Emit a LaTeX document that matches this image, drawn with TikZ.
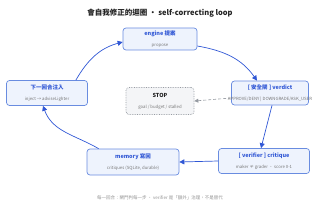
\documentclass[tikz,border=0pt]{standalone}
\usepackage{fontspec}
\setmainfont{Noto Sans CJK TC}
\usetikzlibrary{arrows.meta,positioning}
\definecolor{loopblue}{RGB}{48,87,213}
\definecolor{loopborder}{RGB}{105,140,224}
\definecolor{loopfill}{RGB}{238,243,253}
\definecolor{loopgray}{RGB}{120,120,120}
\definecolor{stopgray}{RGB}{150,155,162}
\definecolor{stopfill}{RGB}{244,245,247}
\definecolor{titlegray}{RGB}{34,34,34}

\begin{document}
\begin{tikzpicture}[x=1pt,y=-1pt,
  stage/.style={draw=loopborder, fill=loopfill, line width=0.7pt, rounded corners=3pt, minimum height=24pt, inner sep=1pt, align=center},
  stopbox/.style={draw=stopgray, fill=stopfill, line width=0.7pt, densely dotted, rounded corners=3pt, minimum width=68pt, minimum height=27pt, inner sep=1pt, align=center},
  flow/.style={-{Triangle[length=5pt,width=5pt]}, loopblue, line width=0.7pt},
  halt/.style={-{Triangle[length=4pt,width=4pt]}, stopgray, densely dashed, line width=0.6pt}]
\useasboundingbox (0,0) rectangle (320,213);
% Title
\node[font=\fontsize{7.5}{9}\selectfont\bfseries, text=titlegray] (title) at (160,13) {會自我修正的迴圈 · self-correcting loop};
% Stages
\node[stage, minimum width=74pt, minimum height=22pt] (engine) at (160,39)
  {{\fontsize{5.5}{7}\selectfont\bfseries\color{loopblue}engine 提案}\\[-1pt]{\fontsize{4.3}{5}\selectfont\color{loopgray}propose}};
\node[stage, minimum width=77pt] (verdict) at (270,93)
  {{\fontsize{5.5}{7}\selectfont\bfseries\color{loopblue}[ 安全閘 ] verdict}\\[-1pt]\makebox[0pt][c]{\fontsize{4.3}{5}\selectfont\color{loopgray}APPROVE/DENY | DOWNGRADE/ASK\_USER}};
\node[stage, minimum width=91pt, minimum height=25pt] (critique) at (264,161)
  {{\fontsize{5.5}{7}\selectfont\bfseries\color{loopblue}[ verifier ] critique}\\[-1pt]{\fontsize{4.3}{5}\selectfont\color{loopgray}maker ≠ grader · score 0-1}};
\node[stage, minimum width=92pt, minimum height=26pt] (memory) at (133,162)
  {{\fontsize{5.5}{7}\selectfont\bfseries\color{loopblue}memory 寫回}\\[-1pt]{\fontsize{4.3}{5}\selectfont\color{loopgray}critiques (SQLite, durable)}};
\node[stage, minimum width=81pt, minimum height=25pt] (inject) at (47,93)
  {{\fontsize{5.5}{7}\selectfont\bfseries\color{loopblue}下一回合注入}\\[-1pt]{\fontsize{4.3}{5}\selectfont\color{loopgray}inject → adviseLighter}};
\node[stopbox] (stop) at (160,101)
  {{\fontsize{5.5}{7}\selectfont\bfseries\color{titlegray}STOP}\\[-1pt]{\fontsize{4.3}{5}\selectfont\color{loopgray}goal / budget / stalled}};
% Loop arrows
\draw[flow] ([yshift=-7pt]engine.east) to[out=-10,in=125] ([xshift=-13pt]verdict.north);
\draw[flow] ([xshift=2pt]verdict.south) -- ([xshift=-3pt]critique.north);
\draw[flow] (critique.west) -- (memory.east);
\draw[flow] ([xshift=12pt]memory.north west) to[out=150,in=-70] ([xshift=-4pt]inject.south);
\draw[flow] ([xshift=-12pt]inject.north east) to[out=60,in=195] ([yshift=-3pt]engine.west);
\draw[halt] ([yshift=-5pt]verdict.west) -- (stop.east);
% Footer
\node[font=\fontsize{4.5}{5}\selectfont, text=loopgray!80] (footer) at (160,198) {每一回合：閘門判每一步 · verifier 是「額外」治理，不是替代};
\end{tikzpicture}
\end{document}
